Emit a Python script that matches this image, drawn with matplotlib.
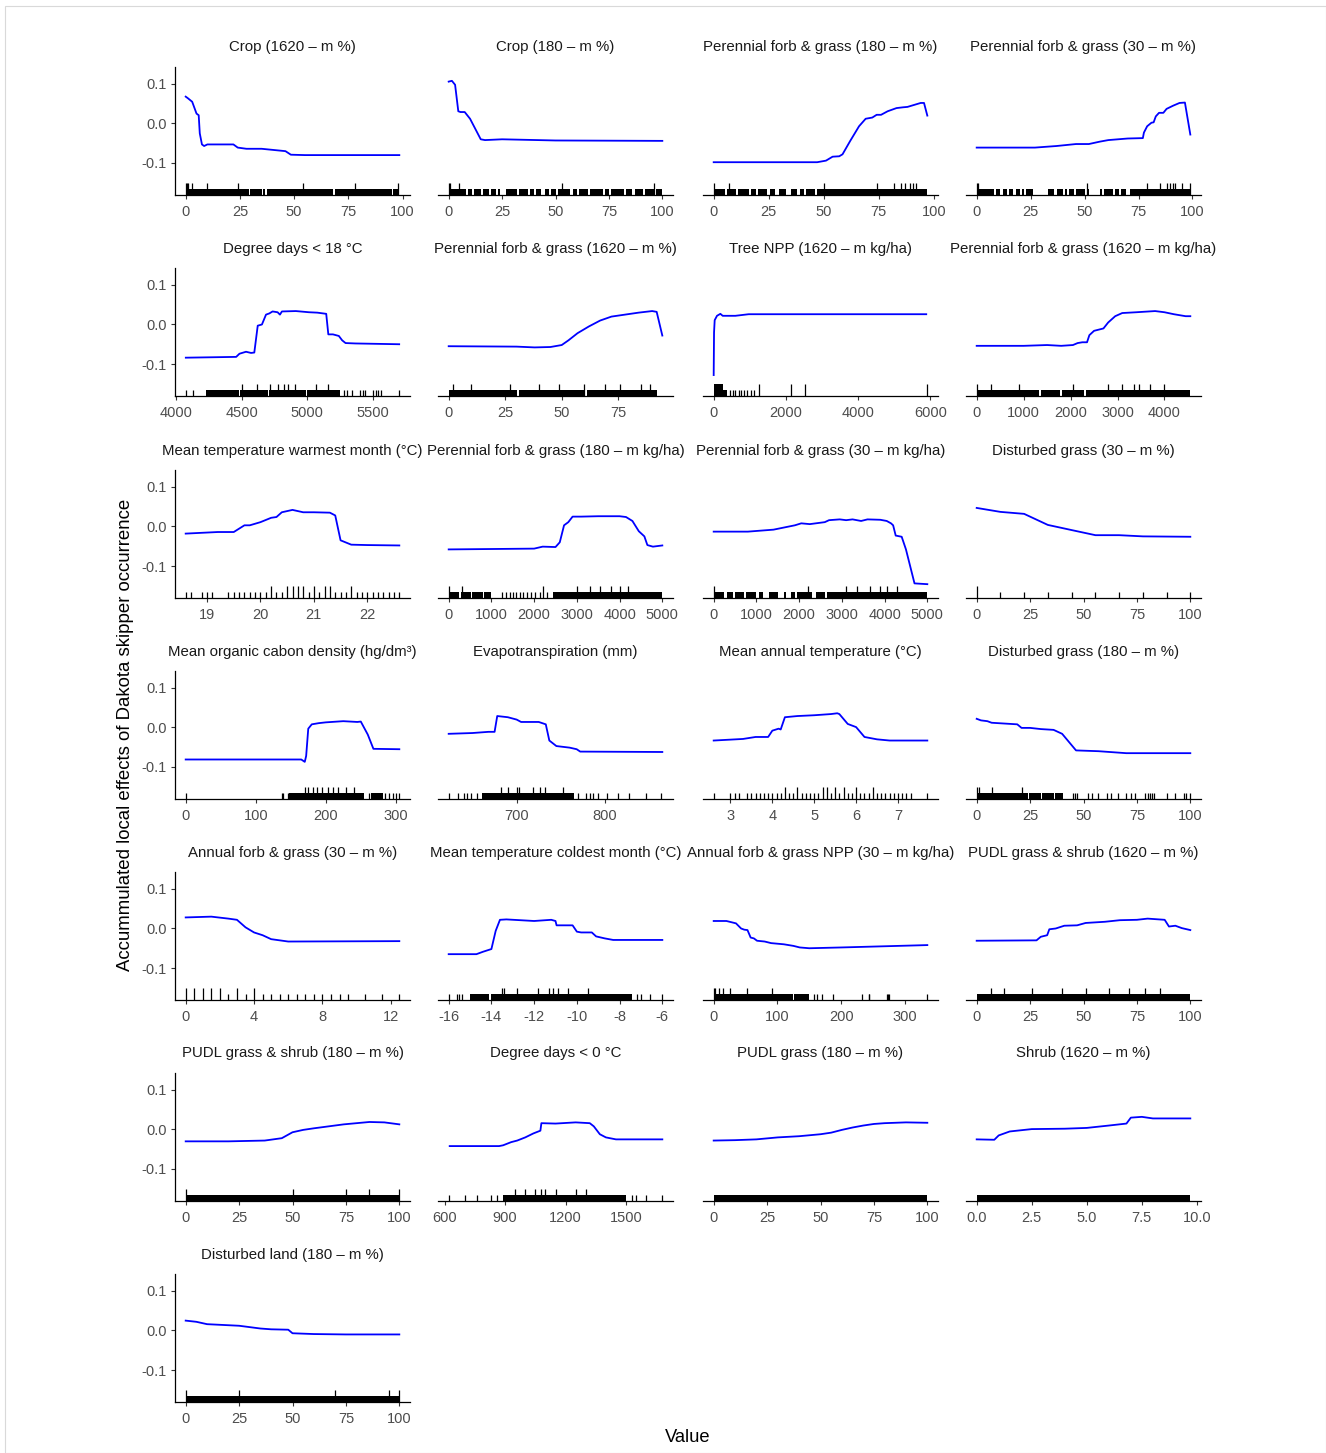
import matplotlib
matplotlib.use("Agg")
import matplotlib.pyplot as plt
from matplotlib.patches import Rectangle

plt.rcParams['font.family'] = ['Liberation Sans', 'DejaVu Sans']
plt.rcParams['axes.unicode_minus'] = False

titles = [
    "Crop (1620 \u2013 m %)", "Crop (180 \u2013 m %)",
    "Perennial forb & grass (180 \u2013 m %)", "Perennial forb & grass (30 \u2013 m %)",
    "Degree days < 18 \u00b0C", "Perennial forb & grass (1620 \u2013 m %)",
    "Tree NPP (1620 \u2013 m kg/ha)", "Perennial forb & grass (1620 \u2013 m kg/ha)",
    "Mean temperature warmest month (\u00b0C)", "Perennial forb & grass (180 \u2013 m kg/ha)",
    "Perennial forb & grass (30 \u2013 m kg/ha)", "Disturbed grass (30 \u2013 m %)",
    "Mean organic cabon density (hg/dm\u00b3)", "Evapotranspiration (mm)",
    "Mean annual temperature (\u00b0C)", "Disturbed grass (180 \u2013 m %)",
    "Annual forb & grass (30 \u2013 m %)", "Mean temperature coldest month (\u00b0C)",
    "Annual forb & grass NPP (30 \u2013 m kg/ha)", "PUDL grass & shrub (1620 \u2013 m %)",
    "PUDL grass & shrub (180 \u2013 m %)", "Degree days < 0 \u00b0C",
    "PUDL grass (180 \u2013 m %)", "Shrub (1620 \u2013 m %)",
    "Disturbed land (180 \u2013 m %)",
]

y_ticks = [-0.1, 0.0, 0.1]
y_ticklabels = ["-0.1", "0.0", "0.1"]

# ---- panel 1
p01_x = [0, 1, 3, 5, 6, 6.5, 7.5, 8.5, 10, 22, 24, 28, 35, 46, 48.5, 55, 98.5]
p01_y = [0.068, 0.064, 0.055, 0.025, 0.021, -0.025, -0.053, -0.057, -0.053, -0.053, -0.061, -0.064, -0.064, -0.070, -0.079, -0.080, -0.080]
p01_ticks = [0, 25, 50, 75, 100]
p01_rug = []
p01_tall = [0, 0.5, 1, 3, 10, 24, 54, 78, 98]
p01_dense = [(0, 29), (29.6, 35), (35.6, 36.8), (37.4, 68), (68.8, 95), (95.6, 98.5)]
# ---- panel 2
p02_x = [0, 1.5, 3, 4.5, 5.5, 7.5, 10, 15, 17, 25, 50, 100]
p02_y = [0.106, 0.108, 0.098, 0.031, 0.029, 0.029, 0.012, -0.040, -0.042, -0.040, -0.043, -0.044]
p02_ticks = [0, 25, 50, 75, 100]
p02_rug = []
p02_tall = [0, 0.5, 5, 53, 96]
p02_dense = [(0, 8), (9, 11), (12, 15), (16, 19), (20, 22), (23, 24), (27, 32), (33, 37), (38, 40), (41, 43),
             (45, 47), (48, 50), (51, 57), (58, 60), (61, 65), (66, 72), (73, 75), (76, 82), (83, 86), (87, 91),
             (92, 96), (97, 100)]
# ---- panel 3
p03_x = [0, 47, 51, 54, 57, 58.5, 62, 66, 69, 72, 74, 76, 79, 83, 86, 88, 91, 94, 95.5, 97]
p03_y = [-0.098, -0.098, -0.094, -0.084, -0.083, -0.078, -0.044, -0.007, 0.012, 0.015, 0.022, 0.022, 0.031, 0.039, 0.041, 0.042, 0.047, 0.052, 0.052, 0.020]
p03_ticks = [0, 25, 50, 75, 100]
p03_rug = []
p03_tall = [0, 7, 50, 74, 82, 85, 87, 89, 90.5, 92]
p03_dense = [(0, 5), (6, 10), (11, 16), (17, 19), (20, 24), (25.5, 28), (29.5, 33), (35, 38), (39, 41), (42, 46), (47, 97)]
# ---- panel 4
p04_x = [0, 27, 37, 46, 52, 57, 61, 70, 77, 77.5, 79, 81, 82, 83, 84.5, 86.5, 88, 91, 94, 96.5, 99]
p04_y = [-0.061, -0.061, -0.057, -0.052, -0.052, -0.046, -0.042, -0.038, -0.037, -0.023, -0.007, 0.002, 0.003, 0.018, 0.027, 0.027, 0.037, 0.045, 0.052, 0.053, -0.028]
p04_ticks = [0, 25, 50, 75, 100]
p04_rug = []
p04_tall = [0, 0.5, 51, 79, 85, 88, 89.5, 91, 92, 95, 99]
p04_dense = [(0, 8), (9, 11), (12, 14), (15, 17), (18, 20), (21, 22), (23, 26), (33, 36), (37, 40), (41, 42),
             (43, 45), (46, 50), (51, 52), (57, 58), (59, 63), (64, 66), (67, 69), (71, 99)]
# ---- panel 5
p05_x = [4076, 4459, 4484, 4534, 4572, 4597, 4623, 4655, 4686, 4711, 4736, 4774, 4792, 4807, 4913, 5013, 5076, 5144, 5160, 5195, 5240, 5265, 5291, 5366, 5699]
p05_y = [-0.084, -0.082, -0.074, -0.069, -0.072, -0.071, -0.003, 0.000, 0.025, 0.028, 0.033, 0.031, 0.025, 0.033, 0.034, 0.031, 0.030, 0.027, -0.025, -0.025, -0.029, -0.040, -0.047, -0.048, -0.050]
p05_ticks = [4000, 4500, 5000, 5500]
p05_rug = [4075, 4130, 5280, 5300, 5340, 5400, 5420, 5440, 5500, 5520, 5540, 5560, 5700]
p05_tall = [4500, 4620, 4720, 4780, 4820, 4850, 4910, 5070, 5160]
p05_dense = [(4230, 4480), (4490, 4700), (4710, 4990), (5000, 5250)]
# ---- panel 6
p06_x = [0, 30, 38, 45, 50, 53, 57, 62, 67, 72, 78, 84, 90, 92, 94.5]
p06_y = [-0.055, -0.056, -0.058, -0.057, -0.052, -0.040, -0.022, -0.005, 0.010, 0.020, 0.025, 0.030, 0.034, 0.032, -0.028]
p06_ticks = [0, 25, 50, 75]
p06_rug = []
p06_tall = [2, 10, 27, 40, 49, 60, 69, 76, 85, 89]
p06_dense = [(0, 30), (31, 60), (61, 92)]
# ---- panel 7
p07_x = [0, 10, 28, 92, 185, 250, 600, 970, 5890]
p07_y = [-0.128, -0.020, 0.011, 0.022, 0.027, 0.022, 0.022, 0.026, 0.026]
p07_ticks = [0, 2000, 4000, 6000]
p07_rug = [446, 530, 600, 700, 770, 837, 930, 1023, 1116]
p07_tall = [1256, 2150, 2520, 5920]
p07_dense = [(0, 370)]
p07_dense_tall = [(0, 250)]
# ---- panel 8
p08_x = [0, 1000, 1500, 1800, 2050, 2150, 2250, 2350, 2400, 2500, 2700, 2800, 2950, 3100, 3400, 3800, 4000, 4200, 4450, 4550]
p08_y = [-0.054, -0.054, -0.052, -0.054, -0.052, -0.047, -0.045, -0.045, -0.027, -0.016, -0.010, 0.005, 0.021, 0.029, 0.031, 0.034, 0.031, 0.026, 0.021, 0.021]
p08_ticks = [0, 1000, 2000, 3000, 4000]
p08_rug = []
p08_tall = [0, 300, 900, 2050, 2800, 3100, 3350, 3450, 3700, 4000]
p08_dense = [(0, 1330), (1370, 1780), (1820, 2280), (2320, 4550)]
# ---- panel 9
p09_x = [18.6, 19.2, 19.5, 19.7, 19.8, 20.0, 20.2, 20.3, 20.4, 20.6, 20.8, 21.0, 21.3, 21.4, 21.5, 21.7, 22.0, 22.6]
p09_y = [-0.018, -0.014, -0.014, 0.003, 0.003, 0.011, 0.022, 0.024, 0.036, 0.042, 0.036, 0.036, 0.035, 0.028, -0.035, -0.046, -0.047, -0.048]
p09_ticks = [19, 20, 21, 22]
p09_rug = [18.6, 18.7, 18.9, 19.0, 19.1, 19.4, 19.5, 19.6, 19.7, 19.8, 19.9, 20.0, 20.1, 20.3, 20.4, 20.9, 21.1,
           21.4, 21.5, 21.6, 21.8, 21.9, 22.0, 22.1, 22.2, 22.3, 22.4, 22.5, 22.6]
p09_tall = [20.2, 20.5, 20.6, 20.7, 20.8, 21.0, 21.2, 21.3, 21.7]
p09_dense = []
# ---- panel 10
p10_x = [0, 2000, 2200, 2500, 2600, 2700, 2800, 2900, 3100, 3500, 4000, 4150, 4300, 4450, 4580, 4650, 4780, 5000]
p10_y = [-0.058, -0.056, -0.051, -0.052, -0.040, 0.003, 0.011, 0.025, 0.025, 0.026, 0.026, 0.024, 0.014, -0.012, -0.025, -0.047, -0.051, -0.048]
p10_ticks = [0, 1000, 2000, 3000, 4000, 5000]
p10_rug = [1256, 1340, 1425, 1500, 1580, 1670, 1750, 1840, 1920, 2030, 2140, 2300]
p10_tall = [0, 300, 2200, 3000, 3300, 3550, 3800, 4000, 4200]
p10_dense = [(0, 250), (280, 520), (550, 800), (830, 980), (2430, 5000)]
# ---- panel 11
p11_x = [0, 800, 1400, 1900, 2050, 2250, 2600, 2700, 2950, 3100, 3250, 3450, 3600, 3900, 4050, 4150, 4200, 4260, 4400, 4500, 4700, 5000]
p11_y = [-0.013, -0.013, -0.008, 0.003, 0.008, 0.006, 0.011, 0.016, 0.018, 0.016, 0.018, 0.014, 0.018, 0.017, 0.014, 0.008, 0.003, -0.023, -0.026, -0.058, -0.144, -0.146]
p11_ticks = [0, 1000, 2000, 3000, 4000, 5000]
p11_rug = []
p11_tall = [0, 2200, 3100, 3350, 3650, 3900, 4050, 4300]
p11_dense = [(0, 250), (300, 450), (500, 700), (750, 1000), (1050, 1150), (1300, 1500), (1650, 1700),
             (1800, 1900), (1950, 2300), (2400, 2600), (2650, 5000)]
# ---- panel 12
p12_x = [0, 11.1, 22.2, 33.3, 44.4, 55.6, 66.7, 77.8, 100]
p12_y = [0.047, 0.037, 0.032, 0.004, -0.009, -0.022, -0.022, -0.025, -0.026]
p12_ticks = [0, 25, 50, 75, 100]
p12_rug = [11.1, 22.2, 33.3, 44.4, 55.6, 66.7, 77.8, 88.9, 100]
p12_tall = [0]
p12_dense = []
# ---- panel 13
p13_x = [0, 165, 170, 172, 175, 180, 190, 200, 225, 245, 250, 260, 268, 305]
p13_y = [-0.081, -0.081, -0.087, -0.072, -0.003, 0.008, 0.011, 0.013, 0.016, 0.014, 0.015, -0.018, -0.054, -0.055]
p13_ticks = [0, 100, 200, 300]
p13_rug = [0, 137, 139, 146, 262, 270, 276, 285, 290, 296, 300, 305]
p13_tall = [170, 175, 182, 187, 195, 203, 211, 218, 229, 241]
p13_dense = [(148, 255), (265, 282)]
# ---- panel 14
p14_x = [623, 650, 668, 675, 678, 690, 700, 705, 725, 733, 737, 745, 760, 768, 772, 865]
p14_y = [-0.016, -0.014, -0.011, -0.011, 0.029, 0.026, 0.020, 0.014, 0.014, 0.008, -0.033, -0.047, -0.051, -0.055, -0.061, -0.062]
p14_ticks = [700, 800]
p14_rug = [623, 634, 640, 644, 648, 655, 770, 778, 783, 787, 792, 802, 815, 827, 846, 864]
p14_tall = [682, 690, 700, 703, 718, 727, 732, 752]
p14_dense = [(661, 765)]
# ---- panel 15
p15_x = [2.6, 3.3, 3.6, 3.9, 4.0, 4.15, 4.2, 4.3, 4.6, 5.0, 5.4, 5.55, 5.6, 5.8, 6.0, 6.2, 6.5, 6.8, 7.7]
p15_y = [-0.033, -0.029, -0.024, -0.024, -0.008, -0.003, -0.005, 0.026, 0.029, 0.031, 0.034, 0.036, 0.034, 0.009, 0.001, -0.024, -0.030, -0.033, -0.033]
p15_ticks = [3, 4, 5, 6, 7]
p15_rug = [2.6, 3.0, 3.1, 3.2, 3.4, 3.5, 3.6, 3.7, 3.8, 3.9, 4.0, 4.1, 4.2, 4.4, 4.5, 4.7, 4.8, 4.9, 5.0, 5.1,
           5.4, 5.6, 5.8, 5.9, 6.1, 6.2, 6.3, 6.5, 6.6, 6.7, 6.8, 6.9, 7.0, 7.1, 7.2, 7.3, 7.7]
p15_tall = [4.3, 4.6, 5.2, 5.3, 5.5, 5.7, 6.0, 6.4]
p15_dense = []
# ---- panel 16
p16_x = [0, 2, 5, 7, 19, 21, 25, 30, 36, 40, 46.5, 57, 70, 100]
p16_y = [0.022, 0.018, 0.016, 0.012, 0.008, -0.001, -0.001, -0.004, -0.006, -0.016, -0.058, -0.060, -0.065, -0.065]
p16_ticks = [0, 25, 50, 75, 100]
p16_rug = [45, 46, 47, 52, 54, 57, 61, 63, 66, 70, 72, 74, 79, 80, 81, 82, 83, 89, 93, 97, 98, 100]
p16_tall = [0, 1, 7, 21]
p16_dense = [(0, 24), (24.6, 30), (30.6, 36), (36.6, 40.5)]
# ---- panel 17
p17_x = [0, 1.5, 2.5, 3, 3.5, 4, 4.5, 5, 6, 12.5]
p17_y = [0.028, 0.030, 0.025, 0.022, 0.003, -0.010, -0.017, -0.027, -0.033, -0.032]
p17_ticks = [0, 4, 8, 12]
p17_rug = [2.5, 3.5, 4.5, 5, 5.5, 6, 6.5, 7, 7.5, 8, 8.5, 9, 9.5, 10.5, 11.5, 12.5]
p17_tall = [0, 0.5, 1, 1.5, 2, 3, 4]
p17_dense = []
# ---- panel 18
p18_x = [-16, -15.3, -14.7, -14.4, -14.0, -13.8, -13.6, -13.3, -12, -11.2, -11.0, -10.95, -10.2, -10.0, -9.8, -9.3, -9.1, -8.7, -8.3, -6]
p18_y = [-0.065, -0.065, -0.065, -0.059, -0.052, -0.006, 0.022, 0.023, 0.019, 0.022, 0.019, 0.008, 0.008, -0.008, -0.010, -0.010, -0.020, -0.025, -0.029, -0.029]
p18_ticks = [-16, -14, -12, -10, -8, -6]
p18_rug = [-16, -15.6, -15.5, -15.4, -7.2, -7.0, -6.6, -6.0]
p18_tall = [-13.5, -13.4, -12.8, -11.8, -11.3, -11.1, -10.9, -10.4, -9.5]
p18_dense = [(-15.0, -14.1), (-14.0, -7.4)]
# ---- panel 19
p19_x = [0, 20, 25, 35, 43, 48, 53, 58, 63, 68, 80, 90, 110, 125, 135, 150, 200, 335]
p19_y = [0.019, 0.019, 0.017, 0.013, 0.0, -0.003, -0.004, -0.023, -0.025, -0.031, -0.033, -0.037, -0.040, -0.044, -0.048, -0.050, -0.048, -0.042]
p19_ticks = [0, 100, 200, 300]
p19_rug = [158, 162, 170, 187, 233, 243, 244, 272, 273, 275, 334]
p19_tall = [0, 2, 8, 15, 26, 52, 91]
p19_dense = [(0, 125), (126, 150)]
# ---- panel 20
p20_x = [0, 28, 30, 33, 34, 37, 41, 47, 51, 60, 67, 75, 80, 88, 90, 93, 96, 100]
p20_y = [-0.031, -0.030, -0.021, -0.017, -0.002, 0.0, 0.007, 0.008, 0.014, 0.017, 0.021, 0.022, 0.025, 0.022, 0.005, 0.007, 0.001, -0.004]
p20_ticks = [0, 25, 50, 75, 100]
p20_rug = []
p20_tall = [6.5, 13, 26, 40, 51, 62, 71.5, 79, 86]
p20_dense = [(0, 100)]
# ---- panel 21
p21_x = [0, 20, 37, 45, 50, 55, 60, 67, 74, 78, 86, 93, 100]
p21_y = [-0.030, -0.030, -0.028, -0.022, -0.007, -0.001, 0.003, 0.008, 0.013, 0.015, 0.019, 0.018, 0.013]
p21_ticks = [0, 25, 50, 75, 100]
p21_rug = []
p21_tall = [0, 50, 75, 86, 100]
p21_dense = [(0, 100)]
# ---- panel 22
p22_x = [625, 870, 890, 930, 960, 1000, 1040, 1075, 1080, 1150, 1250, 1320, 1340, 1370, 1400, 1450, 1680]
p22_y = [-0.042, -0.042, -0.040, -0.032, -0.028, -0.020, -0.010, -0.003, 0.016, 0.015, 0.018, 0.016, 0.008, -0.012, -0.020, -0.025, -0.025]
p22_ticks = [600, 900, 1200, 1500]
p22_rug = [620, 700, 760, 830, 860, 1530, 1550, 1600, 1680]
p22_tall = [950, 1000, 1050, 1080, 1100, 1150, 1250, 1300]
p22_dense = [(890, 1500)]
# ---- panel 23
p23_x = [0, 10, 20, 30, 40, 50, 55, 60, 65, 70, 75, 80, 90, 100]
p23_y = [-0.028, -0.027, -0.025, -0.020, -0.017, -0.012, -0.008, -0.001, 0.005, 0.010, 0.014, 0.016, 0.018, 0.017]
p23_ticks = [0, 25, 50, 75, 100]
p23_rug = []
p23_tall = []
p23_dense = [(0, 100)]
# ---- panel 24
p24_x = [0, 0.8, 1.0, 1.5, 2.5, 4.0, 5.0, 6.0, 6.8, 7.0, 7.5, 8.0, 9.7]
p24_y = [-0.025, -0.026, -0.015, -0.005, 0.001, 0.002, 0.004, 0.010, 0.015, 0.030, 0.032, 0.028, 0.028]
p24_ticks = [0.0, 2.5, 5.0, 7.5, 10.0]
p24_rug = []
p24_tall = []
p24_dense = [(0, 9.7)]
# ---- panel 25
p25_x = [0, 5, 10, 25, 35, 40, 48, 50, 60, 75, 100]
p25_y = [0.025, 0.022, 0.016, 0.012, 0.005, 0.003, 0.002, -0.007, -0.009, -0.010, -0.010]
p25_ticks = [0, 25, 50, 75, 100]
p25_rug = []
p25_tall = [0, 25, 70, 95, 100]
p25_dense = [(0, 100)]

panels = [
    (p01_x, p01_y, p01_ticks, p01_rug, p01_tall, p01_dense, []),
    (p02_x, p02_y, p02_ticks, p02_rug, p02_tall, p02_dense, []),
    (p03_x, p03_y, p03_ticks, p03_rug, p03_tall, p03_dense, []),
    (p04_x, p04_y, p04_ticks, p04_rug, p04_tall, p04_dense, []),
    (p05_x, p05_y, p05_ticks, p05_rug, p05_tall, p05_dense, []),
    (p06_x, p06_y, p06_ticks, p06_rug, p06_tall, p06_dense, []),
    (p07_x, p07_y, p07_ticks, p07_rug, p07_tall, p07_dense, p07_dense_tall),
    (p08_x, p08_y, p08_ticks, p08_rug, p08_tall, p08_dense, []),
    (p09_x, p09_y, p09_ticks, p09_rug, p09_tall, p09_dense, []),
    (p10_x, p10_y, p10_ticks, p10_rug, p10_tall, p10_dense, []),
    (p11_x, p11_y, p11_ticks, p11_rug, p11_tall, p11_dense, []),
    (p12_x, p12_y, p12_ticks, p12_rug, p12_tall, p12_dense, []),
    (p13_x, p13_y, p13_ticks, p13_rug, p13_tall, p13_dense, []),
    (p14_x, p14_y, p14_ticks, p14_rug, p14_tall, p14_dense, []),
    (p15_x, p15_y, p15_ticks, p15_rug, p15_tall, p15_dense, []),
    (p16_x, p16_y, p16_ticks, p16_rug, p16_tall, p16_dense, []),
    (p17_x, p17_y, p17_ticks, p17_rug, p17_tall, p17_dense, []),
    (p18_x, p18_y, p18_ticks, p18_rug, p18_tall, p18_dense, []),
    (p19_x, p19_y, p19_ticks, p19_rug, p19_tall, p19_dense, []),
    (p20_x, p20_y, p20_ticks, p20_rug, p20_tall, p20_dense, []),
    (p21_x, p21_y, p21_ticks, p21_rug, p21_tall, p21_dense, []),
    (p22_x, p22_y, p22_ticks, p22_rug, p22_tall, p22_dense, []),
    (p23_x, p23_y, p23_ticks, p23_rug, p23_tall, p23_dense, []),
    (p24_x, p24_y, p24_ticks, p24_rug, p24_tall, p24_dense, []),
    (p25_x, p25_y, p25_ticks, p25_rug, p25_tall, p25_dense, []),
]

W, H = 1326, 1453
fig = plt.figure(figsize=(W / 100, H / 100), dpi=100)
fig.patch.set_facecolor('white')
fig.add_artist(Rectangle((4.5 / W, 0), 1 - 5 / W, 1 - 6 / H, transform=fig.transFigure,
                         fill=False, edgecolor='#d9d9d9', lw=0.8))

col_left = [175, 438, 703, 966]
row_top = [67, 268, 470, 671, 872, 1073, 1274]
pw, ph = 235, 128
YLIM = (-0.181, 0.143)
SHORT, TALL = 0.05, 0.095

for i, (xs, ys, ticks, rug, tall, dense, dense_tall) in enumerate(panels):
    r, c = divmod(i, 4)
    ax = fig.add_axes([col_left[c] / W, 1 - (row_top[r] + ph) / H, pw / W, ph / H])
    allx = list(xs) + list(rug) + list(tall) + [v for seg in dense for v in seg] + [v for seg in dense_tall for v in seg]
    lo, hi = min(allx), max(allx)
    pad = 0.05 * (hi - lo)
    ax.set_xlim(lo - pad, hi + pad)
    ax.set_ylim(*YLIM)
    for a, b in dense:
        ax.axvspan(a, b, ymin=0, ymax=SHORT, color='black', lw=0)
    for a, b in dense_tall:
        ax.axvspan(a, b, ymin=0, ymax=TALL, color='black', lw=0)
    if rug:
        ax.vlines(rug, 0, SHORT, transform=ax.get_xaxis_transform(), color='black', lw=0.9)
    if tall:
        ax.vlines(tall, 0, TALL, transform=ax.get_xaxis_transform(), color='black', lw=0.9)
    ax.plot(xs, ys, color='#0000FF', lw=1.3, solid_joinstyle='round')

    ax.spines['top'].set_visible(False)
    ax.spines['right'].set_visible(False)
    ax.spines['bottom'].set_linewidth(0.9)
    ax.set_xticks(ticks)
    if i == 23:
        ax.set_xticklabels([f"{t:.1f}" for t in ticks])
    else:
        ax.set_xticklabels([f"{t:g}" for t in ticks])
    ax.tick_params(axis='x', direction='out', length=3, width=0.8, color='#333333',
                   labelsize=10.5, labelcolor='#4d4d4d', pad=4)
    if c == 0:
        ax.spines['left'].set_linewidth(0.9)
        ax.set_yticks(y_ticks)
        ax.set_yticklabels(y_ticklabels)
        ax.tick_params(axis='y', direction='out', length=3, width=0.8, color='#333333',
                       labelsize=10.5, labelcolor='#4d4d4d', pad=3)
    else:
        ax.spines['left'].set_visible(False)
        ax.set_yticks([])
    ax.set_facecolor('none')
    ax.text(0.5, 1 + 19.5 / ph, titles[i], transform=ax.transAxes, ha='center', va='center',
            fontsize=10.8, color='#1a1a1a')

fig.text(125 / W, 1 - 735 / H, "Accummulated local effects of Dakota skipper occurrence",
         rotation=90, ha='center', va='center', fontsize=13.4, color='black')
fig.text(688 / W, 1 - 1438 / H, "Value", ha='center', va='center', fontsize=13.2, color='black')

fig.savefig("out.png", dpi=100, facecolor='white')
